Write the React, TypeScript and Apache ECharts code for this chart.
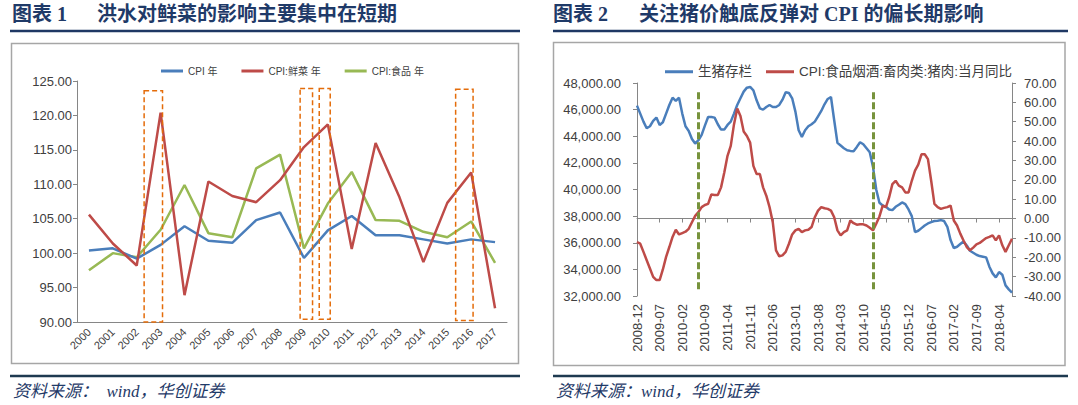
import React, { useEffect, useRef } from 'react';
import * as echarts from 'echarts';

// ---------- Chart 1 data ----------
const years = ['2000', '2001', '2002', '2003', '2004', '2005', '2006', '2007', '2008', '2009', '2010', '2011', '2012', '2013', '2014', '2015', '2016', '2017'];
const cpiYear = [100.4, 100.7, 99.2, 101.2, 103.9, 101.8, 101.5, 104.8, 105.9, 99.3, 103.3, 105.4, 102.6, 102.6, 102.0, 101.4, 102.0, 101.6];
const cpiFreshVeg = [105.6, 101.4, 98.2, 120.4, 93.9, 110.4, 108.3, 107.4, 110.6, 115.4, 118.7, 100.6, 116.0, 108.1, 98.7, 107.3, 111.7, 92.0];
const cpiFood = [97.5, 100.0, 99.4, 103.4, 109.9, 102.9, 102.3, 112.3, 114.3, 100.7, 107.2, 111.8, 104.8, 104.7, 103.1, 102.3, 104.6, 98.6];
// highlighted periods: [category index, left offset (categories), right offset (categories), top value, bottom value]
const floodBoxes = [
  [3, -0.69, 0.08, 123.6, 90],
  [9, -0.16, 0.36, 123.9, 90.4],
  [10, -0.36, 0.1, 123.9, 90.4],
  [16, -0.65, 0.08, 123.8, 90.2],
];
const y1Ticks = { min: 90, max: 125, interval: 5 };

// ---------- Chart 2 data ----------
const hogStock = [
  46300, 45700, 45100, 44600, 44750, 45150, 45400, 44850, 45050, 45700,
  46350, 46900, 46650, 46900, 45700, 44750, 44400, 43800, 43450, 43700,
  44100, 44800, 45450, 45450, 45400, 44900, 44500, 44500, 44850, 45100,
  45700, 46350, 46850, 47350, 47650, 47700, 47450, 46700, 46100, 46000,
  46200, 46350, 46200, 46200, 46350, 46750, 47300, 47250, 46850, 45850,
  44450, 43950, 44450, 44750, 44900, 45100, 45500, 45900, 46400, 46800,
  46950, 45200, 43500, 43300, 43100, 42950, 42900, 42880, 43200, 43550,
  43400, 43100, 42800, 41700, 40000, 39000, 38800, 38700, 38500, 38450,
  38700, 38850, 39030, 38900, 38500, 38000, 36800, 36900, 37100, 37300,
  37450, 37550, 37630, 37650, 37700, 37630, 37200, 36200, 35600, 35700,
  35900, 36100, 35800, 35400, 35250, 35100, 35000, 34950, 34900, 34200,
  33700, 33400, 33800, 33600, 32800, 32500, 32250,
];
const porkCpiYoY = [
  -12.1, -13.0, -17.2, -21.5, -25.8, -30.1, -31.8, -31.8, -26.3, -19.8,
  -14.7, -9.5, -5.8, -8.2, -7.5, -6.8, -5.3, -1.9, 1.4, 3.3,
  5.9, 7.0, 7.6, 12.4, 12.2, 12.2, 16.1, 23.8, 32.4, 37.5,
  48.6, 56.8, 52.9, 44.9, 42.6, 39.2, 27.2, 23.0, 23.0, 16.1,
  11.8, 5.9, -1.9, -16.4, -19.5, -19.0, -17.2, -13.0, -8.2, -6.1,
  -5.3, -7.0, -6.1, -5.8, -4.4, 0.7, 4.1, 5.9, 5.3, 5.0,
  4.1, 0.7, -6.1, -8.7, -7.0, -6.1, -1.0, -2.4, -3.2, -3.0,
  -3.0, -3.6, -4.8, -6.1, -2.7, 1.1, 6.7, 5.9, 11.0, 17.8,
  19.5, 17.0, 16.1, 13.5, 13.5, 19.5, 24.7, 27.8, 33.2, 33.2,
  30.7, 19.5, 7.6, 5.9, 5.0, 5.5, 5.9, 6.7, -1.0, -3.6,
  -7.8, -11.3, -14.7, -16.4, -15.0, -13.3, -12.6, -11.3, -10.1, -9.5,
  -8.7, -11.3, -8.7, -13.8, -17.2, -13.8, -10.4,
];
const startYear = 2008;
const startMonth = 12;
const months = hogStock.map((_, i) => {
  const m = startMonth - 1 + i;
  const y = startYear + Math.floor(m / 12);
  const mm = (m % 12) + 1;
  return `${y}-${String(mm).padStart(2, '0')}`;
});
const markMonths = ['2010-07', '2015-01'];
const markRange = [47300, 32500];
const yLeftTicks = { min: 32000, max: 48000, interval: 2000 };
const yRightTicks = { min: -40, max: 70, interval: 10 };

const FONT = '"Liberation Sans", "Noto Sans CJK SC", sans-serif';
const TITLE_FONT = '"Liberation Serif", "Noto Sans CJK SC", serif';
const AXIS_GRAY = '#868686';
const LABEL = '#404040';
const NAVY = '#1F3A68';
const BLUE = '#4A7EBB';
const RED = '#BE4B48';
const GREEN = '#98B954';

const fmt2 = (v: number) => v.toFixed(2);
const fmtK = (v: number) => v.toLocaleString('en-US', { minimumFractionDigits: 2, maximumFractionDigits: 2 });

function buildOption(): any {
  const titleText = (x: number, text: string) => ({
    type: 'text', x, y: 14, silent: true,
    style: { text, fontSize: 20, fontWeight: 'bold', fontFamily: TITLE_FONT, fill: NAVY, verticalAlign: 'middle' },
  });
  const sourceText = (x: number, text: string) => ({
    type: 'text', x, y: 391, silent: true,
    style: { text, fontSize: 17, fontStyle: 'italic', fontFamily: TITLE_FONT, fill: NAVY, verticalAlign: 'middle' },
  });
  const hline = (x1: number, x2: number, y: number, color: string, w: number) => ({
    type: 'line', silent: true, shape: { x1, y1: y, x2, y2: y }, style: { stroke: color, lineWidth: w },
  });
  const frame = (x: number, y: number, w: number, h: number) => ({
    type: 'rect', silent: true, shape: { x, y, width: w, height: h }, style: { fill: 'none', stroke: '#A6A6A6', lineWidth: 1.5 },
  });

  return {
    animation: false,
    backgroundColor: '#ffffff',
    textStyle: { fontFamily: FONT },
    graphic: {
      elements: [
        titleText(12, '图表 1'),
        titleText(97, '洪水对鲜菜的影响主要集中在短期'),
        titleText(553, '图表 2'),
        titleText(639, '关注猪价触底反弹对 CPI 的偏长期影响'),
        hline(10, 520, 31, '#1F3864', 2.5),
        hline(553, 1068, 31, '#1F3864', 2.5),
        frame(11.5, 43.5, 507, 320),
        frame(553.5, 42.5, 511.5, 323),
        hline(10, 520, 376, '#1E3A50', 2.5),
        hline(553, 1068, 376, '#1E3A50', 2.5),
        sourceText(13, '资料来源：  wind，华创证券'),
        sourceText(556, '资料来源：wind，华创证券'),
      ],
    },
    grid: [
      { left: 77, top: 81, width: 430, height: 241 },
      { left: 637, top: 83, width: 375, height: 213 },
    ],
    legend: [
      {
        data: ['CPI 年', 'CPI:鲜菜 年', 'CPI:食品 年'],
        left: 156, top: 61, icon: 'rect', itemWidth: 22, itemHeight: 3, itemGap: 24,
        textStyle: { fontSize: 10, color: LABEL, fontFamily: FONT },
      },
      {
        data: ['生猪存栏', 'CPI:食品烟酒:畜肉类:猪肉:当月同比'],
        left: 660, top: 60, icon: 'rect', itemWidth: 28, itemHeight: 3, itemGap: 14,
        textStyle: { fontSize: 13.5, color: LABEL, fontFamily: FONT },
      },
    ],
    xAxis: [
      {
        type: 'category', gridIndex: 0, data: years, boundaryGap: true,
        axisLine: { lineStyle: { color: AXIS_GRAY } },
        axisTick: { length: 4, lineStyle: { color: AXIS_GRAY } },
        axisLabel: { rotate: 45, fontSize: 11, color: LABEL, margin: 8, interval: 0 },
      },
      {
        type: 'category', gridIndex: 1, data: months, boundaryGap: false,
        axisLine: { lineStyle: { color: AXIS_GRAY } },
        axisTick: { length: 4, interval: 6, lineStyle: { color: AXIS_GRAY } },
        axisLabel: { rotate: 90, fontSize: 13, color: LABEL, margin: 8, interval: 6 },
      },
    ],
    yAxis: [
      {
        type: 'value', gridIndex: 0, ...y1Ticks,
        axisLine: { show: true, lineStyle: { color: AXIS_GRAY } },
        axisTick: { show: true, length: 4, lineStyle: { color: AXIS_GRAY } },
        splitLine: { show: false },
        axisLabel: { formatter: fmt2, fontSize: 13, color: LABEL, margin: 5 },
      },
      {
        type: 'value', gridIndex: 1, position: 'left', ...yLeftTicks,
        axisLine: { show: true, lineStyle: { color: AXIS_GRAY } },
        axisTick: { show: true, length: 4, lineStyle: { color: AXIS_GRAY } },
        splitLine: { show: false },
        axisLabel: { formatter: fmtK, fontSize: 13, color: LABEL, margin: 16 },
      },
      {
        type: 'value', gridIndex: 1, position: 'right', ...yRightTicks,
        axisLine: { show: true, lineStyle: { color: AXIS_GRAY } },
        axisTick: { show: true, length: 4, lineStyle: { color: AXIS_GRAY } },
        splitLine: { show: false },
        axisLabel: { formatter: fmt2, fontSize: 13, color: LABEL, margin: 12 },
      },
    ],
    series: [
      {
        name: 'CPI 年', type: 'line', xAxisIndex: 0, yAxisIndex: 0, data: cpiYear,
        symbol: 'none', lineStyle: { color: BLUE, width: 2.5 }, itemStyle: { color: BLUE }, z: 3,
      },
      {
        name: 'CPI:鲜菜 年', type: 'line', xAxisIndex: 0, yAxisIndex: 0, data: cpiFreshVeg,
        symbol: 'none', lineStyle: { color: RED, width: 2.5 }, itemStyle: { color: RED }, z: 3,
      },
      {
        name: 'CPI:食品 年', type: 'line', xAxisIndex: 0, yAxisIndex: 0, data: cpiFood,
        symbol: 'none', lineStyle: { color: GREEN, width: 2.5 }, itemStyle: { color: GREEN }, z: 2,
      },
      {
        name: 'boxes', type: 'custom', xAxisIndex: 0, yAxisIndex: 0, data: floodBoxes,
        encode: { x: 0, y: 3 }, silent: true, z: 4,
        renderItem: (params: any, api: any) => {
          const idx = api.value(0);
          const top = api.coord([idx, api.value(3)]);
          const bot = api.coord([idx, api.value(4)]);
          const w = api.size([1, 0])[0];
          const x0 = top[0] + api.value(1) * w;
          const x1 = top[0] + api.value(2) * w;
          return {
            type: 'rect',
            shape: { x: x0, y: top[1], width: x1 - x0, height: bot[1] - top[1] },
            style: { fill: 'none', stroke: '#E46C0A', lineWidth: 1.5, lineDash: [5, 3] },
          };
        },
      },
      {
        name: '生猪存栏', type: 'line', xAxisIndex: 1, yAxisIndex: 1, data: hogStock,
        symbol: 'none', lineStyle: { color: BLUE, width: 2.5 }, itemStyle: { color: BLUE }, z: 3,
        markLine: {
          silent: true, symbol: 'none', label: { show: false },
          lineStyle: { color: '#77933C', width: 3, type: [7, 3] },
          data: markMonths.map((m) => [{ coord: [m, markRange[0]] }, { coord: [m, markRange[1]] }]),
        },
      },
      {
        name: 'CPI:食品烟酒:畜肉类:猪肉:当月同比', type: 'line', xAxisIndex: 1, yAxisIndex: 2, data: porkCpiYoY,
        symbol: 'none', lineStyle: { color: RED, width: 2.5 }, itemStyle: { color: RED }, z: 3,
      },
    ],
  };
}

export default function App() {
  const ref = useRef<HTMLDivElement>(null);
  useEffect(() => {
    if (!ref.current) return;
    const chart = echarts.init(ref.current, undefined, { renderer: 'svg' });
    chart.setOption(buildOption());
    return () => chart.dispose();
  }, []);
  return <div ref={ref} style={{ position: 'fixed', left: 0, top: 0, width: 1078, height: 405, background: '#fff' }} />;
}
